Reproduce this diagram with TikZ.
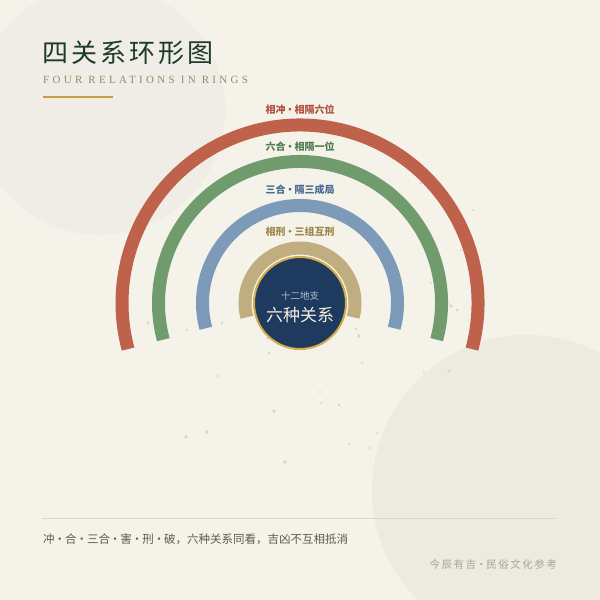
\documentclass[tikz,border=0pt]{standalone}
\usepackage{fontspec}
\newfontfamily\cjk{Noto Sans CJK SC}
\newfontfamily\cjktitle[LetterSpace=12]{Noto Sans CJK SC}
\newfontfamily\subfont[LetterSpace=30]{Liberation Serif}
\newfontfamily\footfont[LetterSpace=14]{Noto Sans CJK SC}
\newcommand\mdot{\hspace{3pt}\makebox[3pt][c]{·}\hspace{3pt}}
\newcommand\fdot{\hspace{3.2pt}\makebox[4pt][c]{·}\hspace{3.2pt}}
\definecolor{bg}{HTML}{F5F2EA}
\definecolor{circA}{HTML}{EFEDE6}
\definecolor{circB}{HTML}{EDEAE0}
\definecolor{dotc}{HTML}{DAD5CC}
\definecolor{ringred}{HTML}{BF624C}
\definecolor{ringgreen}{HTML}{6F9B6D}
\definecolor{ringblue}{HTML}{7D9BB9}
\definecolor{ringtan}{HTML}{C0AE80}
\definecolor{labred}{HTML}{B0503B}
\definecolor{labgreen}{HTML}{4F7C50}
\definecolor{labblue}{HTML}{4A6A93}
\definecolor{labtan}{HTML}{9B8747}
\definecolor{navy}{HTML}{1E3A5F}
\definecolor{gold}{HTML}{D2AC48}
\definecolor{titlec}{HTML}{1F3A2C}
\definecolor{subc}{HTML}{9A8B67}
\definecolor{lineg}{HTML}{C59B47}
\definecolor{sepc}{HTML}{DFD6C6}
\definecolor{footc}{HTML}{5E5A51}
\definecolor{footc2}{HTML}{A9A395}
\definecolor{coretop}{HTML}{B3C1D3}
\definecolor{corebig}{HTML}{F4EFDF}
\begin{document}
\begin{tikzpicture}[x=1pt,y=-1pt,
  ring/.style={line width=13pt, line cap=butt},
  ringlabel/.style={font=\cjk\bfseries\fontsize{10}{12}\selectfont, inner sep=0pt},
  dotstyle/.style={fill=dotc}]
\useasboundingbox (0,0) rectangle (600,600);
\fill[bg] (0,0) rectangle (600,600);
\fill[circA] (100,110) circle[radius=125];
\fill[circB] (527,490) circle[radius=155];
% scattered dots
\foreach \px/\py/\pr in {222/323/1.5, 187/330/1.2, 268/338/1.8, 269/353/1.3, 359/336/1.8, 356/329/1.3,
  362/363/1.2, 218/376/1.1, 320/392/1.1, 321/403/1.1, 339/405/1.4, 274/411/1.8, 424/372/1.2,
  449/371/1.5, 186/437/1.8, 207/432/1.8, 377/433/1.1, 349/444/1.2, 370/448/1.1, 285/462/1.8,
  148/323/1.6, 461/250/1.2, 431/283/1.1, 451/306/1.8, 457/310/1.5, 421/183/1.3, 473/210/1.0}
  \fill[dotstyle] (\px,\py) circle[radius=\pr];
\coordinate (c) at (300,303);
% rings
\draw[ring, ringred]   ([shift={(15:178)}]c) arc[start angle=15, end angle=-195, radius=178];
\draw[ring, ringgreen] ([shift={(15:141.5)}]c) arc[start angle=15, end angle=-195, radius=141.5];
\draw[ring, ringblue]  ([shift={(15:97.5)}]c) arc[start angle=15, end angle=-195, radius=97.5];
\draw[ring, ringtan]   ([shift={(15:55)}]c) arc[start angle=15, end angle=-195, radius=55];
% ring labels
\node[ringlabel, text=labred]   (lred)   at (300,110) {相冲\mdot 相隔六位};
\node[ringlabel, text=labgreen] (lgreen) at (300,147) {六合\mdot 相隔一位};
\node[ringlabel, text=labblue]  (lblue)  at (300,190) {三合\mdot 隔三成局};
\node[ringlabel, text=labtan]   (ltan)   at (300,232) {相刑\mdot 三组互刑};
% core
\node[circle, fill=navy, draw=gold, line width=2pt, minimum size=92pt, inner sep=0pt] (core) at (c) {};
\node[font=\cjk\fontsize{9.5}{11}\selectfont, text=coretop, inner sep=0pt] (coret) at (300,296) {十二地支};
\node[font=\cjk\fontsize{17}{19}\selectfont, text=corebig, inner sep=0pt] (coreb) at (300,315) {六种关系};
% title
\node[font=\cjktitle\fontsize{26}{30}\selectfont, text=titlec, anchor=west, inner sep=0pt] (title) at (42,53) {四关系环形图};
\node[font=\subfont\fontsize{11}{13}\selectfont, text=subc, anchor=west, inner sep=0pt] (sub) at (43,79.5) {FOUR RELATIONS IN RINGS};
\coordinate (ga) at (43,97);
\coordinate (gb) at (113,97);
\draw[lineg, line width=2.5pt] (ga) -- (gb);
% footer
\coordinate (sa) at (42,518.5);
\coordinate (sb) at (557,518.5);
\draw[sepc, line width=1pt] (sa) -- (sb);
\node[font=\cjk\fontsize{11.5}{13}\selectfont, text=footc, anchor=west, inner sep=0pt] (foot) at (43,539) {冲\fdot 合\fdot 三合\fdot 害\fdot 刑\fdot 破，六种关系同看，吉凶不互相抵消};
\node[font=\footfont\fontsize{10.5}{12}\selectfont, text=footc2, anchor=east, inner sep=0pt] (foot2) at (557,565) {今辰有吉\fdot 民俗文化参考};
\end{tikzpicture}
\end{document}
